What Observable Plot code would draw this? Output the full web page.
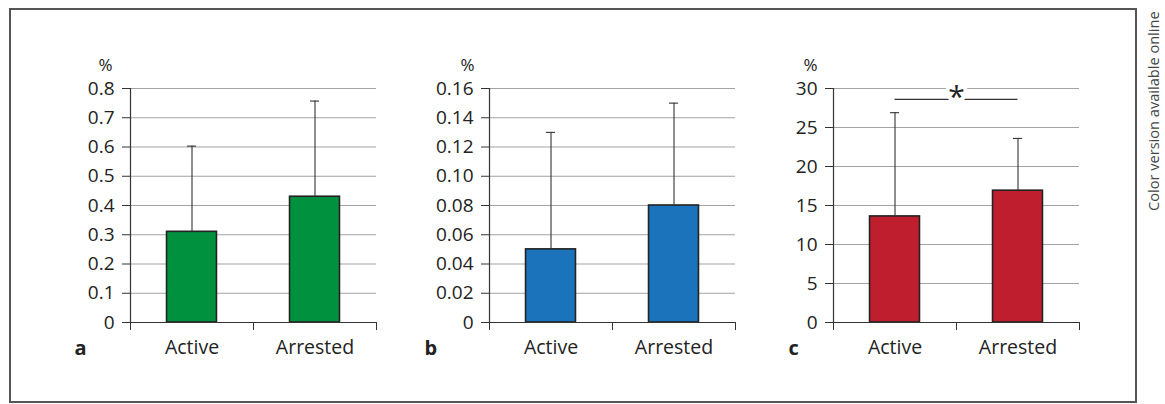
<!DOCTYPE html>
<html>
<head>
<meta charset="utf-8">
<script src="https://cdn.jsdelivr.net/npm/d3@7"></script>
<script src="https://cdn.jsdelivr.net/npm/@observablehq/plot@0.6"></script>
<style>
  html, body { margin: 0; padding: 0; background: #fff; }
  #wrap { position: relative; width: 1165px; height: 404px; overflow: hidden; font-family: "Open Sans", sans-serif; }
  #box { position: absolute; left: 9px; top: 8px; width: 1128px; height: 395px; border: 2px solid #555; box-sizing: border-box; }
  #note { position: absolute; left: 1143px; top: 10px; height: 201px; writing-mode: vertical-rl; transform: rotate(180deg); font-size: 14.6px; color: #444; text-align: left; white-space: nowrap; }
</style>
</head>
<body>
<div id="wrap">
  <div id="box"></div>
  <div id="note">Color version available online</div>
</div>
<script>
// ---- data ----
const categories = ["Active", "Arrested"];
const aValues = [0.31, 0.43];
const aUpper = [0.603, 0.757];
const bValues = [0.05, 0.08];
const bUpper = [0.13, 0.15];
const cValues = [13.6, 16.9];
const cUpper = [26.9, 23.6];
const aTicks = [0, 0.1, 0.2, 0.3, 0.4, 0.5, 0.6, 0.7, 0.8];
const bTicks = [0, 0.02, 0.04, 0.06, 0.08, 0.10, 0.12, 0.14, 0.16];
const cTicks = [0, 5, 10, 15, 20, 25, 30];
const panelLetters = ["a", "b", "c"];
const barColors = ["#00913f", "#1b73bb", "#be1e2e"];
const sigLevel = 28.6;     // significance bracket in panel c
const sigMark = "*";

const panels = [
  {letter: panelLetters[0], values: aValues, upper: aUpper, ticks: aTicks, fmt: d => d === 0 ? "0" : d.toFixed(1), color: barColors[0], axisX: 130, letterDx: -56, pctDx: -25},
  {letter: panelLetters[1], values: bValues, upper: bUpper, ticks: bTicks, fmt: d => d === 0 ? "0" : d.toFixed(2), color: barColors[1], axisX: 489, letterDx: -65, pctDx: -22},
  {letter: panelLetters[2], values: cValues, upper: cUpper, ticks: cTicks, fmt: d => String(d), color: barColors[2], axisX: 833, letterDx: -45, pctDx: -23, sig: true}
];

const mL = 100, mR = 14, mT = 48, mB = 48, W = 360, H = 330;
const hw = 0.203;   // half bar width in category units
const cap = 0.037;  // half cap width
const n = categories.length;

const wrap = document.getElementById("wrap");

for (const p of panels) {
  const data = categories.map((c, i) => ({category: c, i, value: p.values[i], upper: p.upper[i]}));
  const marks = [
    Plot.gridY(p.ticks.slice(1), {stroke: "#a3a3a3", strokeOpacity: 1, strokeWidth: 1.2}),
    Plot.rectY(data, {x1: d => d.i + 0.5 - hw, x2: d => d.i + 0.5 + hw, y1: 0, y2: "value", fill: p.color, stroke: "#222", strokeWidth: 1.6}),
    Plot.ruleX(data, {x: d => d.i + 0.5, y1: "value", y2: "upper", stroke: "#333", strokeWidth: 1.1}),
    Plot.ruleY(data, {y: "upper", x1: d => d.i + 0.5 - cap, x2: d => d.i + 0.5 + cap, stroke: "#333", strokeWidth: 1.1}),
    Plot.ruleX([0], {stroke: "#333", strokeWidth: 1.2}),
    Plot.ruleY([0], {stroke: "#333", strokeWidth: 1.2}),
    Plot.axisY({ticks: p.ticks, tickSize: 8, tickPadding: 8, tickFormat: p.fmt, stroke: "#333", fontSize: 19}),
    Plot.axisX({ticks: d3.range(n + 1), tickSize: 8, tickFormat: () => "", stroke: "#333"}),
    Plot.text(data, {x: d => d.i + 0.5, frameAnchor: "bottom", lineAnchor: "middle", dy: 25, text: "category", fontSize: 19.5, fill: "#222"}),
    Plot.text(["%"], {frameAnchor: "top-left", lineAnchor: "middle", dx: p.pctDx, dy: -23, textAnchor: "middle", fontSize: 17, fill: "#222"}),
    Plot.text([p.letter], {frameAnchor: "bottom-left", lineAnchor: "middle", dx: p.letterDx, dy: 26, textAnchor: "start", fontSize: 20, fontWeight: "bold", fill: "#222"})
  ];
  if (p.sig) {
    marks.push(Plot.ruleY([sigLevel], {x1: 0.5, x2: 1.5, stroke: "#333", strokeWidth: 1.4}));
    marks.push(Plot.text([sigMark], {x: n / 2, y: p.ticks[p.ticks.length - 1], dy: 9, fontSize: 30, fill: "#222", stroke: "white", strokeWidth: 8, strokeLinejoin: "round", paintOrder: "stroke"}));
  }
  const chart = Plot.plot({
    width: W, height: H,
    marginLeft: mL, marginRight: mR, marginTop: mT, marginBottom: mB,
    x: {domain: [0, n], axis: null},
    y: {domain: [0, p.ticks[p.ticks.length - 1]], axis: null},
    style: {fontFamily: "Open Sans", fontSize: "18px", color: "#222", background: "transparent", overflow: "visible"},
    marks
  });
  chart.style.position = "absolute";
  chart.style.left = (p.axisX - mL) + "px";
  chart.style.top = "40px";
  wrap.appendChild(chart);
}
</script>
</body>
</html>
